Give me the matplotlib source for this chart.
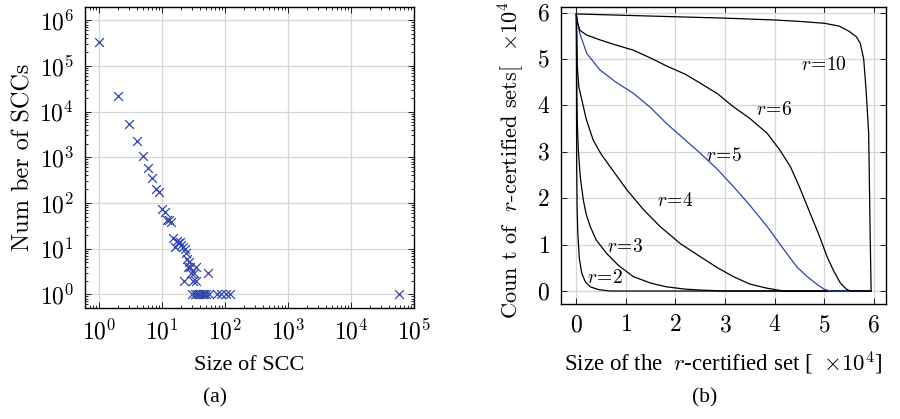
import math

import matplotlib
matplotlib.use("Agg")
import matplotlib.pyplot as plt
from matplotlib.ticker import FixedLocator, FuncFormatter, LogLocator, NullFormatter

plt.rcParams["mathtext.fontset"] = "cm"
plt.rcParams["font.family"] = ["Liberation Serif", "DejaVu Serif"]

# (a) SCC size distribution
scc_size = [1, 2, 3, 4, 5, 6, 7, 8, 9, 10, 11, 12, 13, 14,
            15, 16, 17, 18, 19, 20, 21, 22, 23, 24, 25, 26, 27, 28, 29, 31, 32, 34, 35,
            54, 30, 33, 36, 39, 42, 44, 46, 49, 56, 73, 85, 102, 118, 57800]
scc_count = [336000, 21800, 5400, 2240, 1090, 570, 355, 205, 170, 74, 62, 43, 43, 38,
             17, 11, 15, 13, 14, 12, 11, 2, 10, 8, 6, 4, 5, 4, 3, 2, 3, 2, 4,
             3, 1, 1, 1, 1, 1, 1, 1, 1, 1, 1, 1, 1, 1, 1]

# (b) r-certified sets, values in units of 1e4
r2_x = [0, 0.002, 0.004, 0.007, 0.015, 0.03, 0.06, 0.11, 0.18, 0.28, 0.45, 0.68, 5.95]
r2_y = [5.97, 4.8, 3.6, 2.68, 1.8, 1.24, 0.7, 0.38, 0.2, 0.09, 0.03, 0, 0]
r3_x = [0, 0.005, 0.01, 0.02, 0.04, 0.08, 0.14, 0.2, 0.28, 0.4, 0.61, 0.85, 1.15, 1.5,
        1.82, 2.2, 2.5, 3.0, 5.95]
r3_y = [5.97, 5.0, 4.2, 3.6, 3.04, 2.45, 1.96, 1.65, 1.39, 1.1, 0.81, 0.55, 0.31, 0.17,
        0.09, 0.04, 0.02, 0, 0]
r4_x = [0, 0.01, 0.02, 0.05, 0.11, 0.2, 0.34, 0.5, 0.68, 1.02, 1.35, 1.69, 2.1, 2.5,
        2.85, 3.17, 3.5, 3.85, 4.18, 5.95]
r4_y = [5.97, 5.5, 4.83, 4.4, 4.12, 3.7, 3.25, 2.95, 2.68, 2.18, 1.76, 1.39, 1.02, 0.74,
        0.5, 0.31, 0.15, 0.06, 0, 0]
r5_x = [0, 0.02, 0.07, 0.21, 0.48, 0.8, 1.15, 1.5, 1.82, 2.15, 2.5, 2.85, 3.17, 3.5,
        3.85, 4.15, 4.45, 4.65, 4.86, 5.0, 5.12, 5.95]
r5_y = [5.97, 5.8, 5.55, 5.12, 4.76, 4.5, 4.26, 3.95, 3.61, 3.3, 2.97, 2.62, 2.25, 1.85,
        1.39, 0.95, 0.52, 0.32, 0.14, 0.04, 0, 0]
r6_x = [0, 0.02, 0.07, 0.2, 0.48, 0.8, 1.15, 1.5, 1.82, 2.2, 2.5, 2.85, 3.17, 3.5, 3.85,
        4.1, 4.32, 4.5, 4.72, 4.9, 5.06, 5.2, 5.33, 5.45, 5.53, 5.95]
r6_y = [5.97, 5.8, 5.62, 5.52, 5.41, 5.3, 5.19, 5.02, 4.85, 4.67, 4.48, 4.25, 3.97, 3.72,
        3.4, 3.05, 2.68, 2.25, 1.67, 1.2, 0.74, 0.42, 0.17, 0.04, 0, 0]
r10_x = [0, 1, 2, 3, 4, 4.5, 5, 5.3, 5.5, 5.65, 5.73, 5.8, 5.85, 5.9, 5.93, 5.95]
r10_y = [5.97, 5.94, 5.91, 5.88, 5.84, 5.81, 5.77, 5.71, 5.60, 5.48, 5.34, 5.0, 4.3, 3.4,
         1.24, 0]

curve_labels = ["$r\\!=\\!2$", "$r\\!=\\!3$", "$r\\!=\\!4$", "$r\\!=\\!5$", "$r\\!=\\!6$", "$r\\!=\\!10$"]
label_x = [0.58, 0.98, 1.99, 2.98, 3.98, 4.99]
label_y = [0.27, 0.94, 1.93, 2.91, 3.9, 4.87]

BLUE = "#2f44b0"
GRID = "#d6d6d6"


def style_box(ax):
    for spine in ax.spines.values():
        spine.set_linewidth(1.0)
        spine.set_zorder(5)
    ax.tick_params(which="both", direction="in", top=True, right=True, width=0.6,
                   labelsize=17, pad=8)
    ax.tick_params(which="major", length=4.5)
    ax.tick_params(which="minor", length=2.5)
    ax.grid(True, which="major", color=GRID, linewidth=0.9)
    ax.set_axisbelow(True)


fig = plt.figure(figsize=(9, 4.19), dpi=100)

# ---- (a)
ax1 = fig.add_axes([85 / 900, 1 - 308 / 419, 329 / 900, 301 / 419])
ax1.scatter(scc_size, scc_count, marker="x", s=40, color=BLUE, linewidths=0.9, zorder=3)
ax1.set_xscale("log")
ax1.set_yscale("log")
ax1.set_xlim(10 ** -0.227, 1e5)
ax1.set_ylim(10 ** -0.3, 10 ** 6.29)
ax1.xaxis.set_major_locator(LogLocator(base=10, numticks=10))
ax1.yaxis.set_major_locator(LogLocator(base=10, numticks=10))
ax1.xaxis.set_minor_locator(LogLocator(base=10, subs=range(2, 10), numticks=20))
ax1.yaxis.set_minor_locator(LogLocator(base=10, subs=range(2, 10), numticks=20))
log_fmt = FuncFormatter(lambda v, _: "$10^{%d}$" % round(math.log10(v)))
ax1.xaxis.set_major_formatter(log_fmt)
ax1.yaxis.set_major_formatter(log_fmt)
ax1.xaxis.set_minor_formatter(NullFormatter())
ax1.yaxis.set_minor_formatter(NullFormatter())
style_box(ax1)
ax1.set_xlabel("Size of SCC", fontsize=16, labelpad=8)
fig.text(23 / 900, 1 - 157 / 419, "Num ber of SCCs", rotation=90, ha="center",
         va="center", fontsize=17.5, family="cmr10")

# ---- (b)
ax2 = fig.add_axes([561 / 900, 1 - 304 / 419, 325 / 900, 297 / 419])
curves = [(r2_x, r2_y), (r3_x, r3_y), (r4_x, r4_y), (r5_x, r5_y), (r6_x, r6_y), (r10_x, r10_y)]
for i, (cx, cy) in enumerate(curves):
    ax2.plot(cx, cy, color=BLUE if i == 3 else "black", linewidth=0.9, zorder=3)
for txt, lx, ly in zip(curve_labels, label_x, label_y):
    ax2.text(lx, ly, txt, fontsize=14, ha="center", va="center", zorder=4)
ax2.set_xlim(-0.31, 6.25)
ax2.set_ylim(-0.28, 6.12)
ax2.xaxis.set_major_locator(FixedLocator(range(7)))
ax2.yaxis.set_major_locator(FixedLocator(range(7)))
int_fmt = FuncFormatter(lambda v, _: "$%d$" % v)
ax2.xaxis.set_major_formatter(int_fmt)
ax2.yaxis.set_major_formatter(int_fmt)
style_box(ax2)
ax2.set_xlabel("Size of the  $r$-certified set [  $\\times10^4$]", fontsize=16.5, labelpad=10)
fig.text(511 / 900, 1 - 160 / 419, "Coun t of  $r$-certified sets[  $\\times10^4$",
         rotation=90, ha="center", va="center", fontsize=16, family="cmr10")

fig.text(215 / 900, 1 - 398 / 419, "(a)", ha="center", va="center", fontsize=15.5)
fig.text(705 / 900, 1 - 398 / 419, "(b)", ha="center", va="center", fontsize=15.5)

fig.savefig("out.png", dpi=100)
